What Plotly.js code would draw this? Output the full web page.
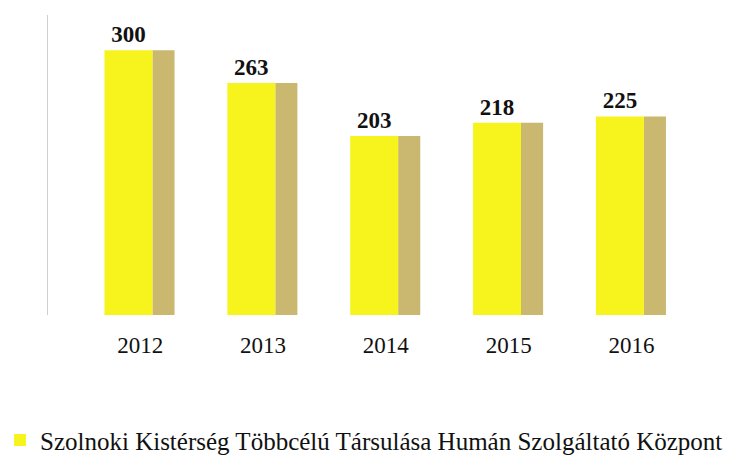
<!DOCTYPE html>
<html>
<head>
<meta charset="utf-8">
<script src="https://cdn.plot.ly/plotly-3.0.1.min.js"></script>
<style>html,body{margin:0;padding:0;background:#fff;}#chart{width:755px;height:466px;}</style>
</head>
<body>
<div id="chart"></div>
<script>
var years = ["2012", "2013", "2014", "2015", "2016"];
var values = [300, 263, 203, 218, 225];
var seriesName = "Szolnoki Kistérség Többcélú Társulása Humán Szolgáltató Központ";

var serif = "'Liberation Serif', 'Times New Roman', 'DejaVu Serif', serif";

var front = {
  type: "bar", x: years, y: values, name: seriesName,
  width: 0.39, offset: -0.29,
  marker: {color: "#f7f31c", line: {width: 0}},
  text: values.map(String), textposition: "outside", cliponaxis: false,
  textfont: {family: serif, size: 23, color: "#111", weight: "bold"},
  showlegend: true
};
var side = {
  type: "bar", x: years, y: values, name: "side",
  width: 0.18, offset: 0.10,
  marker: {color: "#cbb870", line: {width: 0}},
  showlegend: false, hoverinfo: "skip"
};

var layout = {
  width: 755, height: 466,
  margin: {l: 48, r: 62, t: 15, b: 151, autoexpand: false},
  paper_bgcolor: "#ffffff", plot_bgcolor: "#ffffff",
  barmode: "overlay",
  xaxis: {
    type: "category", range: [-0.75, 4.5],
    showgrid: false, zeroline: false, showline: false, ticks: "",
    tickfont: {family: serif, size: 23, color: "#111"},
    ticklabelstandoff: 14
  },
  yaxis: {
    range: [0, 340], showgrid: false, zeroline: false,
    showline: true, linecolor: "#cfcfcf", linewidth: 1,
    showticklabels: false, ticks: ""
  },
  showlegend: true,
  legend: {
    orientation: "h", xref: "container", yref: "container",
    x: -0.025, xanchor: "left", y: 0.055, yanchor: "middle",
    font: {family: serif, size: 25, color: "#111"},
    itemwidth: 30
  },
  font: {family: serif}
};

Plotly.newPlot("chart", [side, front], layout, {displayModeBar: false, staticPlot: true});
</script>
</body>
</html>
